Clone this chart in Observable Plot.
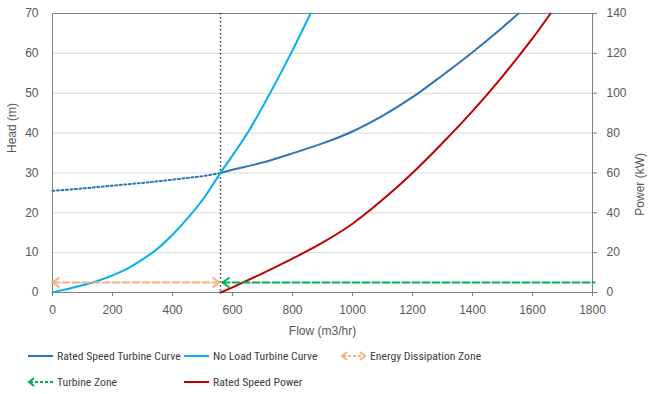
<!DOCTYPE html>
<html>
<head>
<meta charset="utf-8">
<script src="https://cdn.jsdelivr.net/npm/d3@7"></script>
<script src="https://cdn.jsdelivr.net/npm/@observablehq/plot@0.6"></script>
<style>
  html, body { margin: 0; padding: 0; background: #fff; }
  #wrap { position: relative; width: 653px; height: 394px; font-family: "Liberation Sans", Arial, sans-serif; }
  .leg { position: absolute; font-family: "Liberation Sans Narrow", "Arial Narrow", "Roboto Condensed", sans-serif; font-size: 11.7px; color: #404040; display: flex; align-items: center; white-space: nowrap; }
  .leg svg { margin-right: 3px; }
</style>
</head>
<body>
<div id="wrap">
  <div id="chart"></div>
  <div id="legend"></div>
</div>
<script>
// ---- data ----
const flowTicks = [0, 200, 400, 600, 800, 1000, 1200, 1400, 1600, 1800];
const headTicks = [0, 10, 20, 30, 40, 50, 60, 70];

// Rated speed turbine curve (head, m) - extrapolated (dotted) part
const ratedExtFlow = [0, 100, 200, 300, 400, 500, 560];
const ratedExtHead = [25.5, 26.1, 26.8, 27.5, 28.3, 29.2, 30.0];
// Rated speed turbine curve (solid)
const ratedFlow = [560, 600, 700, 800, 900, 1000, 1100, 1200, 1300, 1400, 1500, 1553];
const ratedHead = [30.0, 30.8, 32.6, 34.9, 37.4, 40.4, 44.3, 49.0, 54.5, 60.3, 66.5, 70.0];

// No load turbine curve
const noLoadFlow = [0, 50, 100, 150, 200, 250, 300, 350, 400, 450, 500, 560, 650, 725, 795, 860];
const noLoadHead = [0, 0.9, 1.8, 2.9, 4.3, 6.0, 8.3, 11.0, 14.5, 18.6, 23.2, 30, 40, 50, 60, 70];

// Rated speed power (kW, right axis)
const powerFlow = [560, 600, 700, 800, 900, 1000, 1100, 1200, 1300, 1400, 1500, 1600, 1660];
const powerKW = [0, 2.6, 9.6, 17, 25, 34.5, 46.5, 60, 75, 91, 108.5, 127.5, 140];

// Zones
const dissipationFlow = [0, 560];
const turbineFlow = [560, 1800];
const zoneHead = 2.5;
const bepFlow = 560;

// ---- derived tables ----
const zip = (xs, ys) => xs.map((x, i) => ({x, y: ys[i]}));
const ratedExt = zip(ratedExtFlow, ratedExtHead);
const rated = zip(ratedFlow, ratedHead);
const noLoad = zip(noLoadFlow, noLoadHead);
const power = zip(powerFlow, powerKW.map(p => p / 2)); // head scale = power / 2
const dissipation = dissipationFlow.map(x => ({x, y: zoneHead}));
const turbine = turbineFlow.map(x => ({x, y: zoneHead}));

// chevron arrowheads as custom symbols
const chevronLeft = {draw(ctx) { ctx.moveTo(7, -5); ctx.lineTo(0, 0); ctx.lineTo(7, 5); }};
const chevronRight = {draw(ctx) { ctx.moveTo(-7, -5); ctx.lineTo(0, 0); ctx.lineTo(-7, 5); }};

const chart = Plot.plot({
  width: 653,
  height: 340,
  marginLeft: 52,
  marginRight: 61,
  marginTop: 13,
  marginBottom: 48,
  style: {fontFamily: "'Liberation Sans', Arial, sans-serif", fontSize: "12px", color: "#595959", background: "white"},
  x: {domain: [0, 1800]},
  y: {domain: [0, 70]},
  marks: [
    Plot.gridY(headTicks, {stroke: "#d9d9d9", strokeOpacity: 1, strokeWidth: 1}),
    Plot.axisY(headTicks, {anchor: "left", tickSize: 0, tickPadding: 14, label: null}),
    Plot.axisY(headTicks, {anchor: "right", tickSize: 4, tickPadding: 10, tickFormat: d => String(d * 2), label: null, stroke: "#7f7f7f"}),
    Plot.axisX(flowTicks, {anchor: "bottom", tickSize: 4, tickPadding: 9, tickFormat: d => String(d), label: null, stroke: "#7f7f7f"}),
    Plot.text(["Head (m)"], {frameAnchor: "left", dx: -40, rotate: -90, fill: "#595959", fontSize: 12}),
    Plot.text(["Power (kW)"], {frameAnchor: "right", dx: 48, rotate: -90, fill: "#595959", fontSize: 12}),
    Plot.text(["Flow (m3/hr)"], {frameAnchor: "bottom", dy: 42, fill: "#595959", fontSize: 12}),
    Plot.frame({stroke: "#7f7f7f"}),
    Plot.ruleX([bepFlow], {stroke: "#404040", strokeWidth: 1.5, strokeDasharray: "1.5,2.5"}),
    Plot.line(ratedExt, {x: "x", y: "y", stroke: "#2E75B6", strokeWidth: 2, strokeDasharray: "2,2.5", curve: "natural"}),
    Plot.line(rated, {x: "x", y: "y", stroke: "#2E75B6", strokeWidth: 2, curve: "catmull-rom"}),
    Plot.line(noLoad, {x: "x", y: "y", stroke: "#00B0F0", strokeWidth: 2, curve: "catmull-rom"}),
    Plot.line(power, {x: "x", y: "y", stroke: "#C00000", strokeWidth: 2, curve: "catmull-rom"}),
    Plot.line(dissipation, {x: "x", y: "y", stroke: "#F4B183", strokeWidth: 2, strokeDasharray: "7,3"}),
    Plot.line(turbine, {x: "x", y: "y", stroke: "#00B050", strokeWidth: 2, strokeDasharray: "7,3", dx: 2}),
    Plot.dot(dissipation.slice(0, 1), {x: "x", y: "y", symbol: chevronLeft, fill: "none", stroke: "#F4B183", strokeWidth: 2}),
    Plot.dot(dissipation.slice(1), {x: "x", y: "y", symbol: chevronRight, fill: "none", stroke: "#F4B183", strokeWidth: 2, dx: -1}),
    Plot.dot(turbine.slice(0, 1), {x: "x", y: "y", symbol: chevronLeft, fill: "none", stroke: "#00B050", strokeWidth: 2, dx: 2})
  ]
});
document.getElementById("chart").appendChild(chart);

// ---- legend ----
const legendItems = [
  {label: "Rated Speed Turbine Curve", color: "#2E75B6", type: "line", left: 27, top: 349},
  {label: "No Load Turbine Curve", color: "#00B0F0", type: "line", left: 183, top: 349},
  {label: "Energy Dissipation Zone", color: "#F4B183", type: "both", left: 340, top: 349},
  {label: "Turbine Zone", color: "#00B050", type: "start", left: 27, top: 375},
  {label: "Rated Speed Power", color: "#C00000", type: "line", left: 183, top: 375}
];
const legend = document.getElementById("legend");
for (const it of legendItems) {
  const div = document.createElement("div");
  div.className = "leg";
  div.style.left = it.left + "px";
  div.style.top = it.top + "px";
  const dash = it.type === "line" ? "" : ` stroke-dasharray="3,2"`;
  let heads = "";
  if (it.type === "both" || it.type === "start") heads += `<path d="M7,1 L2,5 L7,9" fill="none" stroke="${it.color}" stroke-width="2"/>`;
  if (it.type === "both") heads += `<path d="M20,1 L25,5 L20,9" fill="none" stroke="${it.color}" stroke-width="2"/>`;
  div.innerHTML = `<svg width="27" height="10"><line x1="${it.type === "line" ? 1 : 3}" x2="${it.type === "both" ? 24 : 26}" y1="5" y2="5" stroke="${it.color}" stroke-width="2"${dash}/>${heads}</svg><span>${it.label}</span>`;
  legend.appendChild(div);
}
</script>
</body>
</html>
